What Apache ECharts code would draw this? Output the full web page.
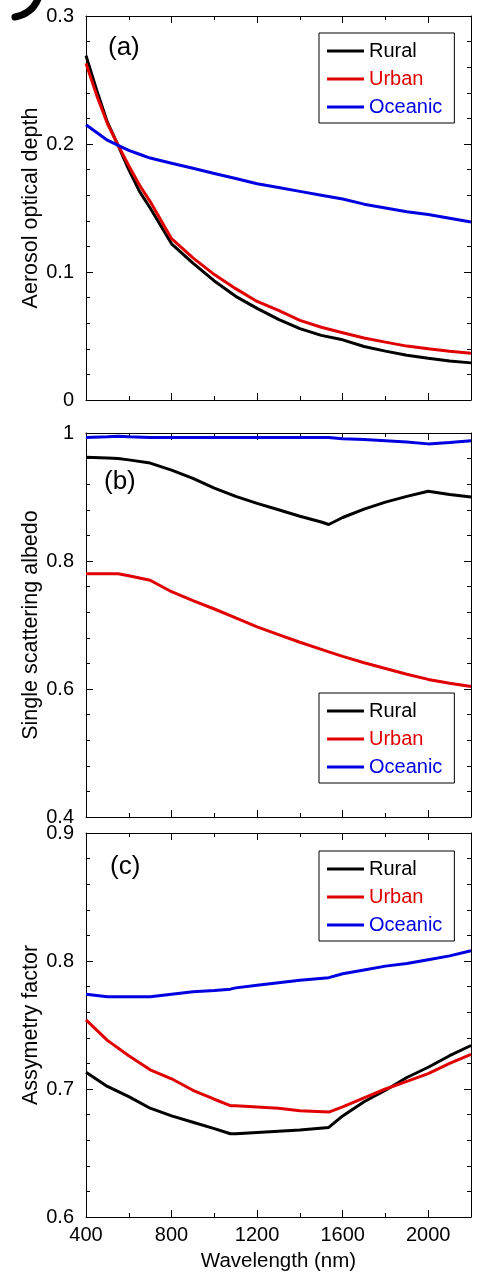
<!DOCTYPE html>
<html>
<head>
<meta charset="utf-8">
<script src="https://cdn.jsdelivr.net/npm/echarts@6/dist/echarts.min.js"></script>
<style>
html,body{margin:0;padding:0;background:#fff;}
#chart{width:481px;height:1273px;}
</style>
</head>
<body>
<div id="chart"></div>
<script>
// ---- Data ----
const seriesNames = ['Rural', 'Urban', 'Oceanic'];
const panelLabels = ['(a)', '(b)', '(c)'];
const yTitles = ['Aerosol optical depth', 'Single scattering albedo', 'Assymetry factor'];
const xTitle = 'Wavelength (nm)';

// Panel (a): aerosol optical depth
const wlA = [400,450,500,550,600,650,700,800,900,1000,1100,1200,1300,1400,1500,1600,1700,1800,1900,2000,2100,2200];
const ruralA = [0.269,0.242,0.217,0.199,0.180,0.163,0.150,0.122,0.107,0.093,0.081,0.0716,0.063,0.0558,0.0505,0.047,0.0418,0.0382,0.035,0.0326,0.0305,0.029];
const urbanA = [0.263,0.238,0.216,0.199,0.183,0.168,0.155,0.126,0.111,0.098,0.087,0.077,0.070,0.0622,0.0568,0.0526,0.0484,0.0452,0.0421,0.040,0.038,0.0365];
const oceanicA = [0.215,0.209,0.203,0.199,0.195,0.192,0.189,0.185,0.181,0.177,0.173,0.169,0.166,0.163,0.160,0.157,0.153,0.150,0.147,0.145,0.142,0.139];

// Panel (b): single scattering albedo
const wlB = [400,500,550,600,700,800,900,1000,1100,1200,1300,1400,1500,1535,1600,1700,1800,1900,2000,2100,2200];
const ruralB = [0.962,0.961,0.960,0.958,0.953,0.942,0.929,0.914,0.901,0.890,0.880,0.870,0.861,0.857,0.868,0.881,0.892,0.901,0.909,0.904,0.900];
const urbanB = [0.780,0.780,0.780,0.777,0.770,0.752,0.738,0.725,0.711,0.697,0.685,0.673,0.662,0.658,0.651,0.641,0.632,0.623,0.615,0.609,0.604];
const oceanicB = [0.993,0.994,0.995,0.994,0.993,0.993,0.993,0.993,0.993,0.993,0.993,0.993,0.993,0.993,0.991,0.990,0.988,0.986,0.983,0.985,0.988];

// Panel (c): asymmetry factor
const wlC = [400,500,600,700,800,900,1000,1075,1100,1200,1300,1400,1535,1600,1700,1800,1900,2000,2100,2200];
const ruralC = [0.713,0.702,0.694,0.685,0.679,0.674,0.669,0.665,0.665,0.666,0.667,0.668,0.670,0.679,0.690,0.699,0.709,0.717,0.726,0.734];
const urbanC = [0.754,0.738,0.726,0.715,0.708,0.699,0.692,0.687,0.687,0.686,0.685,0.683,0.682,0.686,0.693,0.700,0.706,0.712,0.720,0.727];
const oceanicC = [0.774,0.772,0.772,0.772,0.774,0.776,0.777,0.778,0.779,0.781,0.783,0.785,0.787,0.790,0.793,0.796,0.798,0.801,0.804,0.808];

const xMin = 400, xMax = 2200, xMajor = 400, xMinor = 200;
const yRanges = [
  {min: 0, max: 0.3, interval: 0.1},
  {min: 0.4, max: 1, interval: 0.2},
  {min: 0.6, max: 0.9, interval: 0.1}
];

// ---- Styling / layout ----
const colors = ['#000000', '#e00000', '#0000e0'];
const FONT = '"Liberation Sans", Arial, sans-serif';
const grids = [
  {left: 86, top: 16, width: 385, height: 384},
  {left: 86, top: 433, width: 385, height: 384},
  {left: 86, top: 833, width: 385, height: 384}
];
const legendTops = [33, 693, 851];
const labelPos = [[108, 50], [104, 484], [110, 869]];

const panels = [
  {wl: wlA, vals: [ruralA, urbanA, oceanicA]},
  {wl: wlB, vals: [ruralB, urbanB, oceanicB]},
  {wl: wlC, vals: [ruralC, urbanC, oceanicC]}
];

const axLine = {onZero: false, lineStyle: {color: '#000', width: 1}};
const xAxes = [], yAxes = [], series = [], legends = [], graphics = [];

panels.forEach((p, i) => {
  const isLast = i === 2;
  ['bottom', 'top'].forEach(pos => {
    xAxes.push({
      gridIndex: i, type: 'value', position: pos, min: xMin, max: xMax, interval: xMajor,
      axisLine: axLine,
      axisTick: {show: true, inside: true, length: 7, lineStyle: {color: '#000'}},
      minorTick: {show: false},
      splitLine: {show: false},
      axisLabel: {show: isLast && pos === 'bottom', fontSize: 20, color: '#000', fontFamily: FONT, margin: 8,
        showMaxLabel: false, formatter: v => String(v)},
      name: (isLast && pos === 'bottom') ? xTitle : '',
      nameLocation: 'middle', nameGap: 34, nameMoveOverlap: false,
      nameTextStyle: {fontSize: 20.5, color: '#000', fontFamily: FONT}
    });
    xAxes.push({
      gridIndex: i, type: 'value', position: pos, min: xMin, max: xMax, interval: xMinor,
      axisLine: {show: false, onZero: false},
      axisTick: {show: true, inside: true, length: 4, lineStyle: {color: '#000'}},
      splitLine: {show: false},
      axisLabel: {show: false}
    });
  });
  const yr = yRanges[i];
  ['left', 'right'].forEach(pos => {
    yAxes.push({
      gridIndex: i, type: 'value', position: pos, min: yr.min, max: yr.max, interval: yr.interval,
      axisLine: axLine,
      axisTick: {show: true, inside: true, length: 7, lineStyle: {color: '#000'}},
      minorTick: {show: true, splitNumber: 5, length: 4, lineStyle: {color: '#000'}},
      splitLine: {show: false},
      axisLabel: {show: pos === 'left', fontSize: 20, color: '#000', fontFamily: FONT, margin: 12},
      name: pos === 'left' ? yTitles[i] : '',
      nameLocation: 'middle', nameGap: 44, nameMoveOverlap: false,
      nameTextStyle: {fontSize: 21.5, color: '#000', fontFamily: FONT}
    });
  });
  const xIdx = i * 4, yIdx = i * 2;
  seriesNames.forEach((nm, k) => {
    series.push({
      name: nm, type: 'line', xAxisIndex: xIdx, yAxisIndex: yIdx,
      data: p.wl.map((w, j) => [w, p.vals[k][j]]),
      showSymbol: false, symbol: 'none', smooth: false,
      lineStyle: {color: colors[k], width: 3},
      itemStyle: {color: colors[k]},
      animation: false, silent: true, z: 2 + k
    });
  });
  legends.push({
    orient: 'vertical', left: 319, top: legendTops[i],
    icon: 'rect', itemWidth: 37, itemHeight: 3, itemGap: 8,
    padding: [8, 12, 6, 8],
    borderColor: '#000', borderWidth: 1, backgroundColor: '#fff',
    selectedMode: false,
    data: seriesNames.map((nm, k) => ({name: nm, itemStyle: {color: colors[k]}, textStyle: {color: colors[k], fontSize: 20, fontFamily: FONT}})),
    textStyle: {fontSize: 20, fontFamily: FONT}
  });
  graphics.push({
    type: 'text', left: labelPos[i][0], top: labelPos[i][1] - 15,
    style: {text: panelLabels[i], fontSize: 26, fontFamily: FONT, fill: '#000'}
  });
});

// cropped fragment of a glyph in the top-left corner of the original figure
graphics.push({
  type: 'bezierCurve',
  shape: {x1: 15, y1: 17, cpx1: 30, cpy1: 14, cpx2: 36, cpy2: 6, x2: 39, y2: -4},
  style: {stroke: '#000', lineWidth: 7, lineCap: 'round', fill: null}
});

const chart = echarts.init(document.getElementById('chart'), null, {renderer: 'canvas'});
chart.setOption({
  backgroundColor: '#fff',
  animation: false,
  grid: grids,
  xAxis: xAxes,
  yAxis: yAxes,
  legend: legends,
  series: series,
  graphic: graphics
});
</script>
</body>
</html>
